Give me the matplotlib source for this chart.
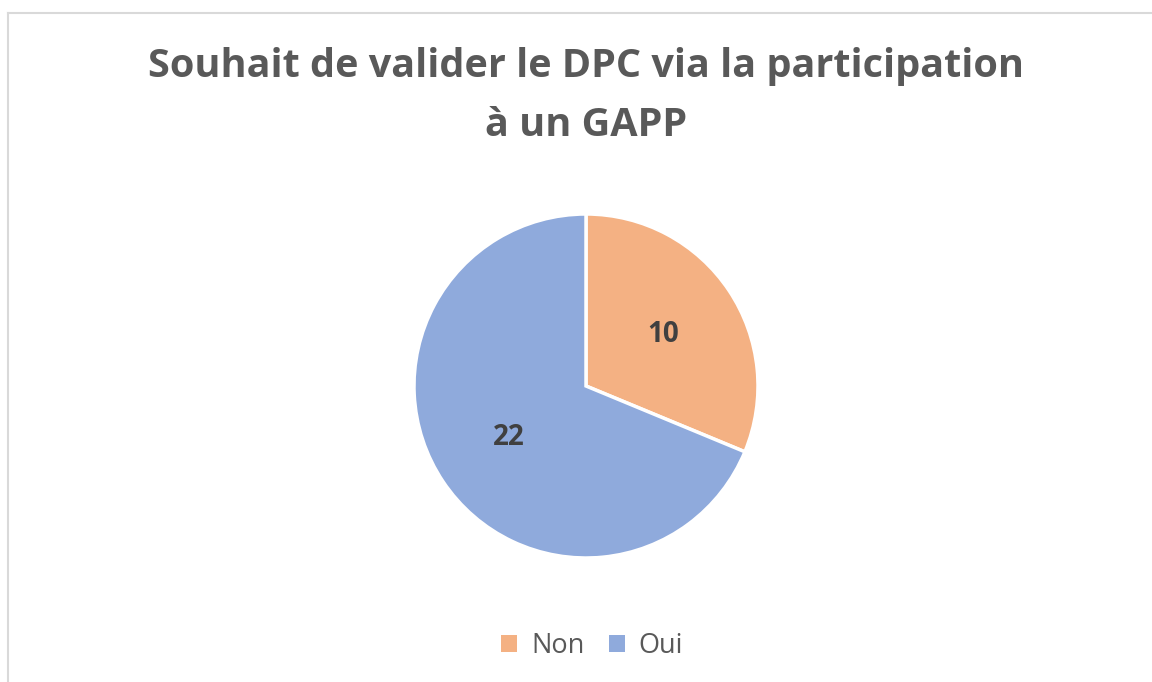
import matplotlib
matplotlib.use("Agg")
import matplotlib.pyplot as plt
from matplotlib.lines import Line2D
from matplotlib.patches import Patch
import numpy as np

categories = ["Non", "Oui"]
values = [10, 22]
colors = ["#F4B183", "#8FAADC"]
title = "Souhait de valider le DPC via la participation\nà un GAPP"

plt.rcParams['font.family'] = ['Open Sans', 'DejaVu Sans']

W, H = 1152, 682
fig = plt.figure(figsize=(W/100, H/100), dpi=100)
fig.patch.set_facecolor("white")

# chart border (top and left visible)
fig.add_artist(Line2D([7.5/W, 1], [1-12.5/H, 1-12.5/H], transform=fig.transFigure, color="#D9D9D9", lw=1.5))
fig.add_artist(Line2D([7.5/W, 7.5/W], [0, 1-12.5/H], transform=fig.transFigure, color="#D9D9D9", lw=1.5))

cx, cy, r = 586, 386, 172
ax = fig.add_axes([(cx-r)/W, 1-(cy+r)/H, 2*r/W, 2*r/H])
wedges, texts = ax.pie(values, colors=colors, startangle=90, counterclock=False,
                       wedgeprops=dict(edgecolor="white", linewidth=2.5))
ax.set_aspect("equal")
ax.set_xlim(-1, 1)
ax.set_ylim(-1, 1)

total = sum(values)
start = 90.0
for v in values:
    ang = start - v / total * 360 / 2
    start -= v / total * 360
    x = 0.54 * np.cos(np.radians(ang))
    y = 0.54 * np.sin(np.radians(ang))
    ax.text(x, y, str(v), ha="center", va="center", fontsize=20, fontweight="bold", color="#404040")

fig.text(cx/W, 1-96/H, title, ha="center", va="center", fontsize=28.5, fontweight="bold",
         color="#595959", linespacing=1.65)

handles = [Patch(facecolor=c, edgecolor="none") for c in colors]
fig.legend(handles, categories, loc="center", bbox_to_anchor=(592/W, 1-646/H), ncol=2,
           frameon=False, fontsize=19.5, labelcolor="#595959", handlelength=0.6, handleheight=0.6,
           handletextpad=0.5, columnspacing=0.9)

fig.savefig("out.png", dpi=100, facecolor="white")
